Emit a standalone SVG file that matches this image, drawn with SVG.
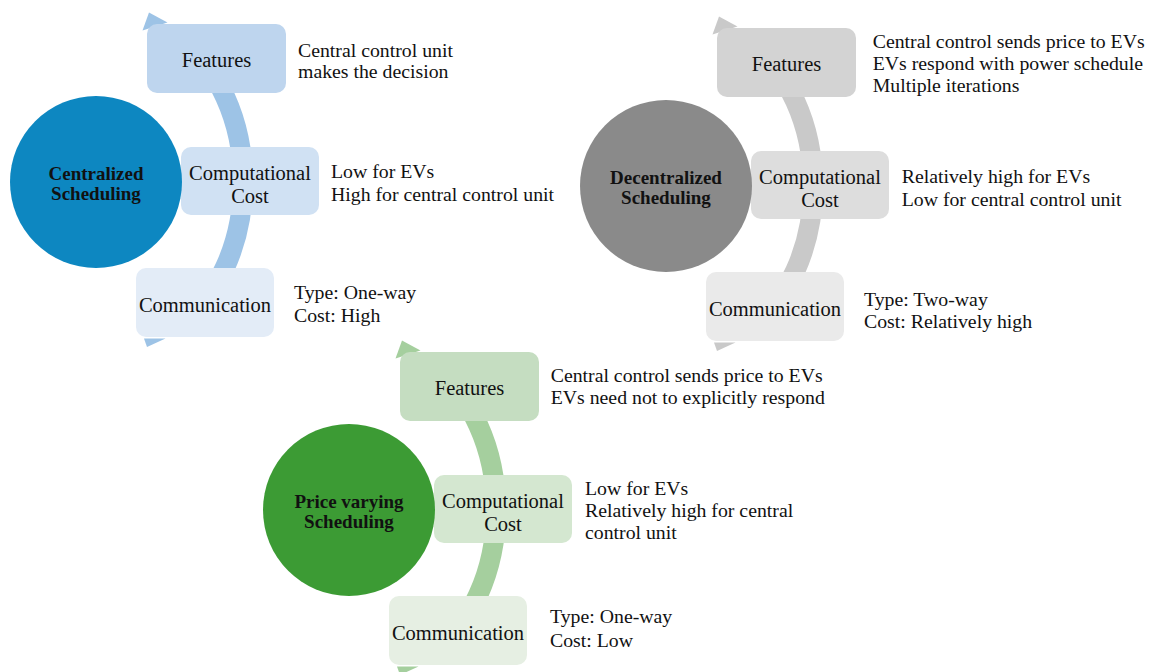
<svg xmlns="http://www.w3.org/2000/svg" width="1151" height="672" viewBox="0 0 1151 672" font-family="Liberation Serif">
<style>
.lbl{font-size:20.5px;text-anchor:middle;fill:#111}
.desc{font-size:19.8px;fill:#111}
.ttl{font-size:19px;font-weight:bold;text-anchor:middle;fill:#111}
.arc{fill:none;stroke-width:20}
</style>
<rect width="1151" height="672" fill="#ffffff"/>
<g id="connectors">
  <g id="arc-centralized" transform="translate(0,0)">
    <path class="arc" stroke="#9dc3e6" d="M184.2,322 A125,165 0 0 0 184.2,42"/>
    <polygon fill="#9dc3e6" points="149,12.5 142.5,30.5 167.5,22.5"/>
    <polygon fill="#9dc3e6" points="144,338.5 147,347 165.5,338.5"/>
  </g>
  <g id="arc-decentralized" transform="translate(570,4)">
    <path class="arc" stroke="#c9c9c9" d="M184.2,322 A125,165 0 0 0 184.2,42"/>
    <polygon fill="#c9c9c9" points="149,12.5 142.5,30.5 167.5,22.5"/>
    <polygon fill="#c9c9c9" points="144,338.5 147,347 165.5,338.5"/>
  </g>
  <g id="arc-price" transform="translate(253,328)">
    <path class="arc" stroke="#a5cf9e" d="M184.2,322 A125,165 0 0 0 184.2,42"/>
    <polygon fill="#a5cf9e" points="149,12.5 142.5,30.5 167.5,22.5"/>
    <polygon fill="#a5cf9e" points="144,338.5 147,347 165.5,338.5"/>
  </g>
</g>

<g id="centralized" transform="translate(0,0)">
  <g id="c-features">
    <rect x="147" y="24" width="139" height="69" rx="10" fill="#bed5ee"/>
    <text class="lbl" x="216.5" y="67">Features</text>
    <text class="desc" x="298" y="57">Central control unit</text>
    <text class="desc" x="298" y="78">makes the decision</text>
  </g>
  <g id="c-cost">
    <rect x="181" y="147" width="138" height="68" rx="10" fill="#d0e1f3"/>
    <text class="lbl" x="250" y="180">Computational</text>
    <text class="lbl" x="250" y="203">Cost</text>
    <text class="desc" x="331" y="178.3">Low for EVs</text>
    <text class="desc" x="331" y="201">High for central control unit</text>
  </g>
  <g id="c-comm">
    <rect x="136" y="268" width="138" height="69" rx="10" fill="#e3ecf7"/>
    <text class="lbl" x="205" y="311.5">Communication</text>
    <text class="desc" x="294" y="299.3">Type: One-way</text>
    <text class="desc" x="294" y="321.7">Cost: High</text>
  </g>
  <g id="c-main">
    <circle cx="96" cy="182" r="86" fill="#0d87c1"/>
    <text class="ttl" x="96" y="180">Centralized</text>
    <text class="ttl" x="96" y="200">Scheduling</text>
  </g>
</g>

<g id="decentralized" transform="translate(570,4)">
  <g id="d-features">
    <rect x="147" y="24" width="139" height="69" rx="10" fill="#d3d3d3"/>
    <text class="lbl" x="216.5" y="67">Features</text>
    <text class="desc" x="302.7" y="43.7">Central control sends price to EVs</text>
    <text class="desc" x="302.7" y="66">EVs respond with power schedule</text>
    <text class="desc" x="302.7" y="88.3">Multiple iterations</text>
  </g>
  <g id="d-cost">
    <rect x="181" y="147" width="138" height="68" rx="10" fill="#dddddd"/>
    <text class="lbl" x="250" y="180">Computational</text>
    <text class="lbl" x="250" y="203">Cost</text>
    <text class="desc" x="331.7" y="179.3">Relatively high for EVs</text>
    <text class="desc" x="331.7" y="201.7">Low for central control unit</text>
  </g>
  <g id="d-comm">
    <rect x="136" y="268" width="138" height="69" rx="10" fill="#eaeaea"/>
    <text class="lbl" x="205" y="311.5">Communication</text>
    <text class="desc" x="294" y="301.7">Type: Two-way</text>
    <text class="desc" x="294" y="323.7">Cost: Relatively high</text>
  </g>
  <g id="d-main">
    <circle cx="96" cy="182" r="86" fill="#8a8a8a"/>
    <text class="ttl" x="96" y="180">Decentralized</text>
    <text class="ttl" x="96" y="200">Scheduling</text>
  </g>
</g>

<g id="price" transform="translate(253,328)">
  <g id="p-features">
    <rect x="147" y="24" width="139" height="69" rx="10" fill="#c5ddc1"/>
    <text class="lbl" x="216.5" y="67">Features</text>
    <text class="desc" x="297.7" y="53.7">Central control sends price to EVs</text>
    <text class="desc" x="297.7" y="76.3">EVs need not to explicitly respond</text>
  </g>
  <g id="p-cost">
    <rect x="181" y="147" width="138" height="68" rx="10" fill="#d4e7d0"/>
    <text class="lbl" x="250" y="180">Computational</text>
    <text class="lbl" x="250" y="203">Cost</text>
    <text class="desc" x="332" y="167">Low for EVs</text>
    <text class="desc" x="332" y="189.3">Relatively high for central</text>
    <text class="desc" x="332" y="211">control unit</text>
  </g>
  <g id="p-comm">
    <rect x="136" y="268" width="138" height="69" rx="10" fill="#e6efe3"/>
    <text class="lbl" x="205" y="311.5">Communication</text>
    <text class="desc" x="297" y="295.3">Type: One-way</text>
    <text class="desc" x="297" y="318.7">Cost: Low</text>
  </g>
  <g id="p-main">
    <circle cx="96" cy="182" r="86" fill="#3c9b34"/>
    <text class="ttl" x="96" y="180">Price varying</text>
    <text class="ttl" x="96" y="200">Scheduling</text>
  </g>
</g>
</svg>
